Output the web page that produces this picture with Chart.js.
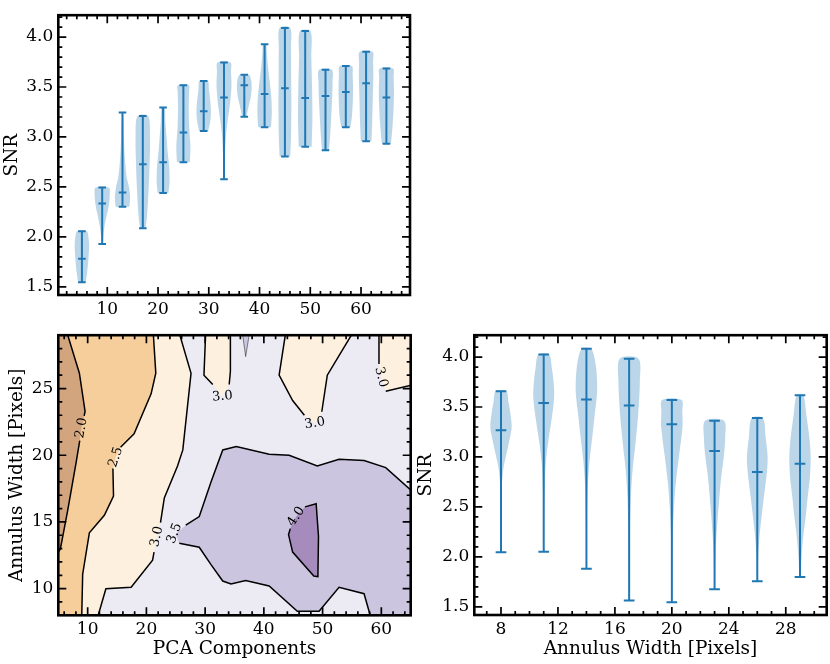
<!DOCTYPE html>
<html>
<head>
<meta charset="utf-8">
<script src="https://cdn.jsdelivr.net/npm/chart.js@4.4.1/dist/chart.umd.min.js"></script>
<style>
html, body { margin: 0; padding: 0; background: #fff; }
body { width: 830px; height: 664px; position: relative; overflow: hidden; }
canvas { position: absolute; }
</style>
</head>
<body>
<canvas id="pca" width="420" height="320" style="left:0px;top:0px"></canvas>
<canvas id="cont" width="412" height="344" style="left:0px;top:320px"></canvas>
<canvas id="ann" width="418" height="344" style="left:412px;top:320px"></canvas>
<script>
// ---- top panel: SNR against number of PCA components ----
var pcaComponents = [5, 9, 13, 17, 21, 25, 29, 33, 37, 41, 45, 49, 53, 57, 61, 65];
var pcaMin  = [1.546, 1.929, 2.301, 2.085, 2.438, 2.748, 3.060, 2.576, 3.203, 3.098, 2.805, 2.901, 2.866, 3.098, 2.958, 2.932];
var pcaMax  = [2.056, 2.493, 3.245, 3.210, 3.296, 3.519, 3.560, 3.745, 3.624, 3.927, 4.092, 4.060, 3.672, 3.710, 3.853, 3.685];
var pcaMean = [1.782, 2.333, 2.445, 2.728, 2.748, 3.044, 3.257, 3.395, 3.519, 3.430, 3.487, 3.391, 3.410, 3.449, 3.538, 3.395];
// violin outline: [SNR, relative half width]
var pcaShape = [
	[[1.546,0.5],[1.65,0.7],[1.8,0.88],[1.92,0.95],[2.0,0.85],[2.056,0.65]],
	[[1.929,0.08],[2.0,0.15],[2.1,0.3],[2.2,0.55],[2.3,0.83],[2.4,0.98],[2.493,0.87]],
	[[2.301,0.9],[2.4,1.0],[2.5,0.85],[2.6,0.55],[2.8,0.3],[3.0,0.18],[3.245,0.08]],
	[[2.085,0.35],[2.2,0.55],[2.5,0.78],[2.8,0.92],[3.0,0.95],[3.21,0.7]],
	[[2.438,0.7],[2.55,0.85],[2.7,0.8],[2.85,0.6],[3.0,0.45],[3.15,0.3],[3.296,0.2]],
	[[2.748,0.85],[2.9,0.93],[3.1,0.76],[3.3,0.7],[3.45,0.75],[3.519,0.72]],
	[[3.06,0.6],[3.15,0.85],[3.25,0.95],[3.35,0.87],[3.48,0.68],[3.56,0.55]],
	[[2.576,0.05],[2.8,0.12],[3.0,0.25],[3.15,0.45],[3.3,0.74],[3.5,0.98],[3.65,0.92],[3.745,0.85]],
	[[3.203,0.3],[3.3,0.55],[3.4,0.85],[3.5,0.97],[3.57,0.9],[3.624,0.6]],
	[[3.098,0.85],[3.25,0.95],[3.4,0.88],[3.55,0.68],[3.7,0.45],[3.85,0.28],[3.927,0.2]],
	[[2.805,0.7],[3.0,0.8],[3.3,0.85],[3.6,0.82],[3.9,0.8],[4.092,0.7]],
	[[2.901,0.85],[3.2,0.95],[3.5,0.9],[3.8,0.8],[4.06,0.7]],
	[[2.866,0.45],[3.0,0.6],[3.2,0.75],[3.4,0.88],[3.55,0.92],[3.672,0.85]],
	[[3.098,0.6],[3.2,0.8],[3.35,0.92],[3.5,0.95],[3.62,0.9],[3.71,0.8]],
	[[2.958,0.7],[3.15,0.8],[3.4,0.88],[3.6,0.95],[3.75,0.92],[3.853,0.85]],
	[[2.932,0.6],[3.1,0.8],[3.3,0.95],[3.45,1.0],[3.6,0.95],[3.685,0.88]]
];

// ---- bottom right: SNR against annulus width ----
var annulusWidths = [8, 11, 14, 17, 20, 23, 26, 29];
var annMin  = [2.045, 2.051, 1.882, 1.564, 1.545, 1.675, 1.755, 1.799];
var annMax  = [3.659, 4.025, 4.083, 3.984, 3.570, 3.363, 3.389, 3.618];
var annMean = [3.267, 3.541, 3.576, 3.516, 3.328, 3.060, 2.850, 2.933];
var annShape = [
	[[2.045,0.02],[2.5,0.03],[2.75,0.1],[2.9,0.25],[3.05,0.55],[3.2,0.85],[3.3,1.0],[3.42,0.9],[3.55,0.7],[3.659,0.5]],
	[[2.051,0.03],[2.35,0.04],[2.65,0.08],[2.95,0.2],[3.18,0.46],[3.4,0.77],[3.6,0.98],[3.75,0.92],[3.9,0.75],[4.025,0.5]],
	[[1.882,0.03],[2.2,0.04],[2.45,0.06],[2.7,0.12],[2.95,0.28],[3.2,0.55],[3.43,0.78],[3.65,1.0],[3.9,0.9],[4.083,0.45]],
	[[1.564,0.03],[2.0,0.04],[2.32,0.08],[2.64,0.18],[2.89,0.34],[3.12,0.58],[3.43,0.85],[3.75,1.0],[3.984,0.88]],
	[[1.545,0.03],[1.9,0.04],[2.2,0.08],[2.5,0.2],[2.75,0.38],[3.0,0.66],[3.3,1.0],[3.45,0.98],[3.57,0.92]],
	[[1.675,0.03],[2.0,0.08],[2.2,0.17],[2.4,0.3],[2.6,0.45],[2.8,0.62],[3.0,0.86],[3.2,1.0],[3.363,0.89]],
	[[1.755,0.04],[2.0,0.08],[2.2,0.2],[2.4,0.4],[2.6,0.62],[2.85,0.9],[3.0,0.97],[3.2,0.78],[3.389,0.52]],
	[[1.799,0.07],[2.0,0.15],[2.2,0.3],[2.4,0.53],[2.6,0.72],[2.8,0.93],[3.0,1.0],[3.2,0.87],[3.4,0.62],[3.618,0.3]]
];

// ---- bottom left: SNR contours over (PCA components, annulus width) ----
// contour lines, split where the inline labels sit
var c20a = [[6.4,29.3],[8.59,26.15],[9.56,23.28],[9.4,22.95]];
var c20b = [[8.65,21.1],[8.03,19.45],[6.6,15.86],[5.36,12.99],[4.6,12.4]];
var c25a = [[21.15,29.3],[21.6,26.15],[20.8,24.6],[17.9,21.6],[15.6,20.6]];
var c25b = [[14.3,19.0],[14.4,16.93],[12.84,15.5],[10.29,14.18],[9.15,11.08],[8.98,7.7]];
var c30a = [[25.5,29.3],[27.6,26.15],[26.2,20.4],[25.3,19.2],[23.05,16.8],[22.4,14.95]];
var c30b = [[21.3,12.74],[21.05,12.13],[17.4,10.1],[13.1,9.99],[11.6,7.7]];
var c35top = [[26.7,14.76],[29,15.4],[31,18.0],[33,20.4],[35.3,20.65],[40.9,20.07],[44.3,20.0],[49.1,19.2],[52.8,19.7],[57.06,19.6],[60.75,19.07],[65.5,17.2]];
var c35bot = [[25.6,13.4],[29,13.1],[31,11.8],[33,10.57],[34.4,10.35],[36.9,10.6],[40.9,10.2],[45.7,8.3],[49.4,8.3],[52.8,10.1],[57.06,9.62],[58.3,7.7]];
var c40 = [[47.0,16.13],[48.9,16.37],[49.3,13.93],[49.2,10.9],[48.5,10.95],[44.9,12.74],[44.2,14.05],[44.5,14.5]];
var c30midA = [[30.1,29.3],[29.8,26.0],[31.3,25.3]];
var c30midB = [[34.1,25.3],[34.3,26.3],[34.3,29.3]];
var c35spike = [[36.3,29.3],[36.9,27.4],[37.6,29.3]];
var c30rA = [[43.75,29.3],[42.6,26.0],[44.9,24.1],[46.9,23.0]];
var c30rB = [[49.86,23.26],[50.8,26.0],[55.3,29.3]];
var c30edgeA = [[59.6,29.3],[59.6,26.85]];
var c30edgeB = [[60.75,24.8],[65.5,25.3]];
// inline labels: x, y, text, angle (deg)
var contourLabels = [
	[8.95, 22.05, '2.0', -80],
	[14.8, 19.85, '2.5', -72],
	[21.8, 13.9, '3.0', -78],
	[24.8, 14.15, '3.5', -69],
	[45.5, 15.4, '4.0', -57],
	[32.95, 24.4, '3.0', -5],
	[48.7, 22.4, '3.0', -10],
	[59.95, 25.85, '3.0', 76]
];

// tick labels
var pcaTicks = [10, 20, 30, 40, 50, 60];
var snrTicks = [1.5, 2.0, 2.5, 3.0, 3.5, 4.0];
var widthTicks = [8, 12, 16, 20, 24, 28];
var contourYTicks = [10, 15, 20, 25];

Chart.defaults.font.family = "'DejaVu Serif', serif";
Chart.defaults.font.size = 17;
Chart.defaults.color = '#000';

var C0 = '#1f77b4';
var violinFill = 'rgba(31,119,180,0.3)';
var titleFont = {size: 18.5};

function range(a, b, step, skip) {
	var out = [];
	for (var i = 0; a + i * step <= b + 1e-9; i++) {
		var v = +(a + i * step).toFixed(4);
		if (skip.indexOf(v) < 0) out.push(v);
	}
	return out;
}

function pts(arr) {
	return arr.map(function(p) { return {x: p[0], y: p[1]}; });
}

// background, inward ticks on all four sides and a heavy frame
function framePlugin(cfg) {
	return {
		id: 'frame',
		beforeDatasetsDraw: function(chart) {
			if (!cfg.bg) return;
			var a = chart.chartArea, ctx = chart.ctx;
			ctx.save();
			ctx.fillStyle = cfg.bg;
			ctx.fillRect(a.left, a.top, a.right - a.left, a.bottom - a.top);
			ctx.restore();
		},
		afterDatasetsDraw: function(chart) {
			var a = chart.chartArea, ctx = chart.ctx;
			var xs = chart.scales.x, ys = chart.scales.y;
			ctx.save();
			ctx.strokeStyle = '#000';
			ctx.lineWidth = 1.7;
			ctx.beginPath();
			function xt(vals, len) {
				vals.forEach(function(v) {
					var p = xs.getPixelForValue(v);
					if (p < a.left + 1 || p > a.right - 1) return;
					ctx.moveTo(p, a.bottom); ctx.lineTo(p, a.bottom - len);
					ctx.moveTo(p, a.top); ctx.lineTo(p, a.top + len);
				});
			}
			function yt(vals, len) {
				vals.forEach(function(v) {
					var p = ys.getPixelForValue(v);
					if (p < a.top + 1 || p > a.bottom - 1) return;
					ctx.moveTo(a.left, p); ctx.lineTo(a.left + len, p);
					ctx.moveTo(a.right, p); ctx.lineTo(a.right - len, p);
				});
			}
			xt(cfg.xMajor, 8); xt(cfg.xMinor, 4);
			yt(cfg.yMajor, 8); yt(cfg.yMinor, 4);
			ctx.stroke();
			ctx.lineWidth = 2.6;
			ctx.strokeRect(a.left, a.top, a.right - a.left, a.bottom - a.top);
			ctx.restore();
		}
	};
}

function axis(min, max, major, fmt, size, horiz, title, titlePad) {
	var s = {
		type: 'linear', min: min, max: max,
		grid: {display: false, drawTicks: false},
		border: {display: false},
		ticks: {padding: horiz ? 4.5 : 5, autoSkip: false, maxRotation: 0, callback: fmt},
		afterBuildTicks: function(sc) { sc.ticks = major.map(function(v) { return {value: v}; }); },
		afterFit: function(sc) { if (horiz) sc.height = size; else sc.width = size; }
	};
	if (title) s.title = {display: true, text: title, font: titleFont, padding: titlePad};
	return s;
}

function violinDatasets(pos, lo, hi, mean, shape, half, cap) {
	var sets = [];
	var lines = [];
	for (var i = 0; i < pos.length; i++) {
		var left = shape[i].map(function(p) { return {x: pos[i] - p[1] * half, y: p[0]}; });
		var right = shape[i].slice().reverse().map(function(p) { return {x: pos[i] + p[1] * half, y: p[0]}; });
		sets.push({
			data: left.concat(right), fill: 'shape', backgroundColor: violinFill,
			borderColor: 'rgba(0,0,0,0)', borderWidth: 0, tension: 0.3, pointRadius: 0, order: 2
		});
		lines.push({x: pos[i], y: lo[i]}, {x: pos[i], y: hi[i]}, {x: pos[i], y: null},
			{x: pos[i] - cap, y: lo[i]}, {x: pos[i] + cap, y: lo[i]}, {x: pos[i], y: null},
			{x: pos[i] - cap, y: hi[i]}, {x: pos[i] + cap, y: hi[i]}, {x: pos[i], y: null},
			{x: pos[i] - cap, y: mean[i]}, {x: pos[i] + cap, y: mean[i]}, {x: pos[i], y: null});
	}
	sets.push({data: lines, borderColor: C0, borderWidth: 2, fill: false, pointRadius: 0, order: 1});
	return sets;
}

var common = {
	responsive: false, animation: false, devicePixelRatio: 1,
	plugins: {legend: {display: false}, tooltip: {enabled: false}}
};

function opts(extra) {
	return Object.assign({}, common, extra);
}

var fmt1 = function(v) { return v.toFixed(1); };
var fmt0 = function(v) { return String(v); };

// top panel
new Chart(document.getElementById('pca'), {
	type: 'line',
	data: {datasets: violinDatasets(pcaComponents, pcaMin, pcaMax, pcaMean, pcaShape, 1.5, 0.75)},
	options: opts({
		layout: {padding: {left: 0, top: 4, right: 10, bottom: 0}},
		scales: {
			x: axis(0.35, 69.65, pcaTicks, fmt0, 25, true),
			y: axis(1.418, 4.219, snrTicks, fmt1, 58.3, false, 'SNR', {top: 1.5, bottom: 0})
		}
	}),
	plugins: [framePlugin({
		xMajor: pcaTicks, xMinor: range(2, 68, 2, pcaTicks),
		yMajor: snrTicks, yMinor: range(1.5, 4.2, 0.1, snrTicks)
	})]
});

// contour panel
var lvl = {
	brown: '#d3a57e', orange: '#f5ce9c', cream: '#fdf0df',
	lavLight: '#ecebf4', lav: '#cbc5df', purple: '#a68cbd'
};
function lp(i) { return [contourLabels[i][0], contourLabels[i][1]]; }
var fills = [
	[[[4.5, 29.5]].concat(c30a, [lp(2)], c30b, [[4.5, 7.5]]), lvl.cream],
	[[[4.5, 29.5]].concat(c25a, [lp(1)], c25b, [[4.5, 7.5]]), lvl.orange],
	[[[4.5, 29.5]].concat(c20a, [lp(0)], c20b), lvl.brown],
	[c30midA.concat([lp(5)], c30midB), lvl.cream],
	[c30rA.concat([lp(6)], c30rB), lvl.cream],
	[c30edgeA.concat([lp(7)], c30edgeB, [[65.5, 29.5]]), lvl.cream],
	[[[25.0, 14.1]].concat(c35top, [[65.5, 7.5]], c35bot.slice().reverse()), lvl.lav],
	[c35spike, lvl.lav],
	[c40.concat([lp(4)]), lvl.purple]
];
var contourSets = [];
fills.forEach(function(f, i) {
	contourSets.push({
		data: pts(f[0]), fill: 'shape', backgroundColor: f[1], borderColor: 'rgba(0,0,0,0)',
		borderWidth: 0, pointRadius: 0, order: 100 - i
	});
});
[c20a, c20b, c25a, c25b, c30a, c30b, c35top, c35bot, c40, c30midA, c30midB, c30rA, c30rB, c30edgeA, c30edgeB].forEach(function(l) {
	contourSets.push({data: pts(l), borderColor: '#000', borderWidth: 1.5, fill: false, pointRadius: 0, order: 1});
});
contourSets.push({data: pts(c35spike), borderColor: 'rgba(0,0,0,0.45)', borderWidth: 1, fill: false, pointRadius: 0, order: 1});

var labelPlugin = {
	id: 'clabels',
	afterDatasetsDraw: function(chart) {
		var ctx = chart.ctx, xs = chart.scales.x, ys = chart.scales.y;
		ctx.save();
		ctx.fillStyle = '#000';
		ctx.font = "13px 'DejaVu Serif', serif";
		ctx.textAlign = 'center';
		ctx.textBaseline = 'middle';
		contourLabels.forEach(function(l) {
			ctx.save();
			ctx.translate(xs.getPixelForValue(l[0]), ys.getPixelForValue(l[1]));
			ctx.rotate(l[3] * Math.PI / 180);
			ctx.fillText(l[2], 0, 0);
			ctx.restore();
		});
		ctx.restore();
	}
};

new Chart(document.getElementById('cont'), {
	type: 'line',
	data: {datasets: contourSets},
	options: opts({
		layout: {padding: {left: 0, top: 3.3, right: 1.3, bottom: 0}},
		scales: {
			x: axis(5, 65, pcaTicks, fmt0, 48.7, true, 'PCA Components', {top: 0, bottom: 3.5}),
			y: axis(8, 29, contourYTicks, fmt0, 58.3, false, 'Annulus Width [Pixels]', {top: 6, bottom: 0})
		}
	}),
	plugins: [framePlugin({
		bg: lvl.lavLight,
		xMajor: pcaTicks, xMinor: range(6, 64, 2, pcaTicks),
		yMajor: contourYTicks, yMinor: range(9, 28, 1, contourYTicks)
	}), labelPlugin]
});

// bottom right panel
new Chart(document.getElementById('ann'), {
	type: 'line',
	data: {datasets: violinDatasets(annulusWidths, annMin, annMax, annMean, annShape, 0.75, 0.375)},
	options: opts({
		layout: {padding: {left: 0, top: 4, right: 3.3, bottom: 0}},
		scales: {
			x: axis(6.125, 30.875, widthTicks, fmt0, 49, true, 'Annulus Width [Pixels]', {top: 0, bottom: 3.5}),
			y: axis(1.418, 4.219, snrTicks, fmt1, 62.3, false, 'SNR', {top: 3.4, bottom: 0})
		}
	}),
	plugins: [framePlugin({
		xMajor: widthTicks, xMinor: range(7, 30, 1, widthTicks),
		yMajor: snrTicks, yMinor: range(1.5, 4.2, 0.1, snrTicks)
	})]
});
</script>
</body>
</html>
